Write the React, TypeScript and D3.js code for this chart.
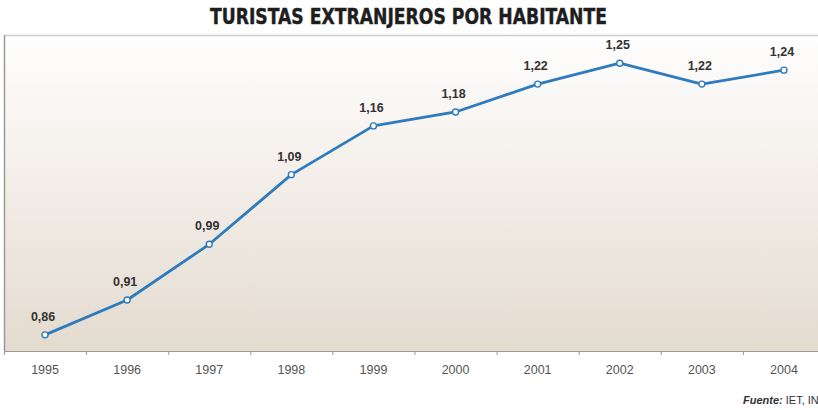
import React from "react";
import * as d3 from "d3";

const years = ["1995", "1996", "1997", "1998", "1999", "2000", "2001", "2002", "2003", "2004"];
const values = [0.86, 0.91, 0.99, 1.09, 1.16, 1.18, 1.22, 1.25, 1.22, 1.24];
const title = "TURISTAS EXTRANJEROS POR HABITANTE";
const sourceLabel = "Fuente:";
const sourceText = " IET, INE";

const W = 818;
const H = 410;
const left = 4;
const right = 825;
const top = 35;
const bottom = 351;

export default function App() {
  const x = d3.scaleBand<string>().domain(years).range([left, right]).padding(0);
  const y = d3.scaleLinear().domain([0.8368, 1.2905]).range([bottom, top]);
  const cx = (yr: string) => (x(yr) as number) + x.bandwidth() / 2;
  const line = d3
    .line<number>()
    .x((_, i) => cx(years[i]))
    .y((v) => y(v));
  const fmt = (v: number) => d3.format(".2f")(v).replace(".", ",");
  const boundaries = years.map((yr) => x(yr) as number);

  return (
    <svg
      width={W}
      height={H}
      style={{ position: "absolute", left: 0, top: 0, display: "block" }}
      fontFamily="'Liberation Sans', Arial, sans-serif"
    >
      <defs>
        <linearGradient id="bg" x1="0" y1="0" x2="0" y2="1">
          <stop offset="0" stopColor="#fefefe" />
          <stop offset="0.35" stopColor="#f6f2ee" />
          <stop offset="1" stopColor="#e4dbcf" />
        </linearGradient>
      </defs>
      <rect width={W} height={H} fill="#ffffff" />
      <text
        x={408.5}
        y={23.5}
        textAnchor="middle"
        fontFamily="'DejaVu Sans Condensed', 'Liberation Sans Narrow', 'DejaVu Sans', sans-serif"
        fontWeight="bold"
        fontSize={22}
        fill="#1e1e1e"
        stroke="#1e1e1e"
        strokeWidth={0.4}
        textLength={397}
        lengthAdjust="spacingAndGlyphs"
      >
        {title}
      </text>
      <rect x={left} y={top} width={right - left} height={bottom - top} fill="url(#bg)" />
      <line x1={left} x2={W} y1={top + 0.5} y2={top + 0.5} stroke="#cfcfcf" strokeWidth={1.5} />
      <line x1={left + 0.5} x2={left + 0.5} y1={top} y2={bottom} stroke="#9a9a9a" strokeWidth={1.5} />
      <line x1={left} x2={W} y1={bottom + 0.5} y2={bottom + 0.5} stroke="#9a9a9a" strokeWidth={1} />
      {boundaries.map((bx, i) => (
        <line key={i} x1={bx + 0.5} x2={bx + 0.5} y1={bottom} y2={bottom + 4} stroke="#9a9a9a" strokeWidth={1} />
      ))}
      {years.map((yr) => (
        <text key={yr} x={cx(yr)} y={374} textAnchor="middle" fontSize={12.5} fill="#555">
          {yr}
        </text>
      ))}
      <path d={line(values) || ""} fill="none" stroke="#2e7bbd" strokeWidth={2.8} strokeLinejoin="round" />
      {values.map((v, i) => (
        <circle key={i} cx={cx(years[i])} cy={y(v)} r={3} fill="#fff" stroke="#2e7bbd" strokeWidth={1.4} />
      ))}
      {values.map((v, i) => (
        <text
          key={"l" + i}
          x={cx(years[i]) - 2}
          y={y(v) - 14}
          textAnchor="middle"
          fontSize={12.5}
          fontWeight="bold"
          fill="#333"
        >
          {fmt(v)}
        </text>
      ))}
      <text x={743} y={404} fontSize={11} fill="#333">
        <tspan fontWeight="bold" fontStyle="italic">{sourceLabel}</tspan>
        <tspan>{sourceText}</tspan>
      </text>
    </svg>
  );
}
